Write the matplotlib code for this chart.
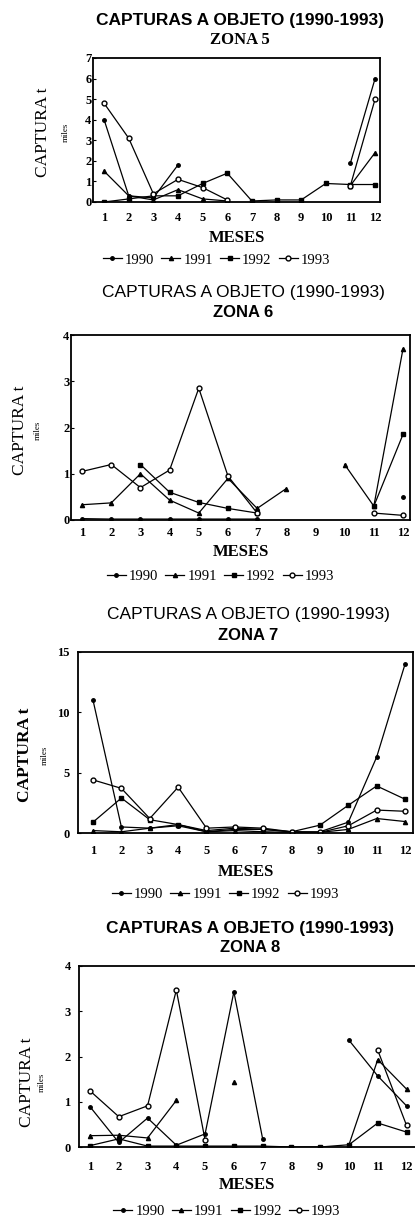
import numpy as np
import matplotlib
matplotlib.use("Agg")
import matplotlib.pyplot as plt

nan = np.nan
meses = list(range(1, 13))
anios = ["1990", "1991", "1992", "1993"]

# zona 5 (miles de t)
z5_1990 = [4.0, 0.3, 0.2, 1.8, nan, nan, nan, nan, nan, nan, 1.9, 6.0]
z5_1991 = [1.5, 0.3, 0.1, 0.6, 0.15, 0.05, nan, nan, nan, nan, 0.8, 2.4]
z5_1992 = [0.0, 0.15, 0.3, 0.3, 0.9, 1.4, 0.05, 0.1, 0.1, 0.9, 0.85, 0.85]
z5_1993 = [4.8, 3.1, 0.4, 1.1, 0.7, 0.1, nan, nan, nan, nan, 0.8, 5.0]

# zona 6
z6_1990 = [0.03, 0.02, 0.02, 0.02, 0.02, 0.02, 0.02, nan, nan, nan, nan, 0.5]
z6_1991 = [0.33, 0.37, 1.0, 0.43, 0.15, 0.9, 0.25, 0.68, nan, 1.2, 0.3, 3.7]
z6_1992 = [nan, nan, 1.2, 0.6, 0.38, 0.25, 0.15, nan, nan, nan, 0.3, 1.85]
z6_1993 = [1.05, 1.2, 0.7, 1.08, 2.85, 0.95, 0.15, nan, nan, nan, 0.15, 0.1]

# zona 7
z7_1990 = [11.0, 0.5, 0.4, 0.6, 0.1, 0.3, 0.3, 0.1, 0.1, 0.9, 6.3, 14.0]
z7_1991 = [0.2, 0.1, 0.4, 0.7, 0.1, 0.2, 0.1, 0.05, 0.05, 0.3, 1.2, 0.95]
z7_1992 = [0.9, 2.9, 1.1, 0.7, 0.2, 0.4, 0.3, 0.1, 0.65, 2.3, 3.9, 2.8]
z7_1993 = [4.4, 3.7, 1.2, 3.8, 0.4, 0.5, 0.4, 0.1, 0.05, 0.6, 1.9, 1.8]

# zona 8
z8_1990 = [0.89, 0.1, 0.64, 0.04, 0.29, 3.43, 0.18, nan, nan, 2.36, 1.57, 0.91]
z8_1991 = [0.25, 0.26, 0.2, 1.03, nan, 1.44, nan, nan, nan, 0.05, 1.93, 1.28]
z8_1992 = [0.03, 0.18, 0.02, 0.02, 0.02, 0.02, 0.02, 0.0, 0.0, 0.05, 0.53, 0.33]
z8_1993 = [1.24, 0.67, 0.91, 3.47, 0.15, nan, nan, nan, nan, nan, 2.14, 0.48]

zonas = ["ZONA 5", "ZONA 6", "ZONA 7", "ZONA 8"]
datos = [
    [z5_1990, z5_1991, z5_1992, z5_1993],
    [z6_1990, z6_1991, z6_1992, z6_1993],
    [z7_1990, z7_1991, z7_1992, z7_1993],
    [z8_1990, z8_1991, z8_1992, z8_1993],
]
ymax = [7, 4, 15, 4]
yticks = [list(range(0, 8)), list(range(0, 5)), [0, 5, 10, 15], list(range(0, 5))]

W, H = 415, 1220
SERIF = "Liberation Serif"
SANS = "Liberation Sans"

# layout in pixels: (left, right, top, bottom, xmin, xmax)
cajas = [
    (93, 380, 58, 202, 0.55, 12.2),
    (71, 410, 335, 520, 0.62, 12.24),
    (78, 413, 652, 833, 0.47, 12.28),
    (79, 416, 966, 1147, 0.617, 12.33),
]
# y of title line 1, title line 2, MESES, legend ; x of ylabel, x of miles, y of ylabel
textos = [
    (21, 40, 238, 260, 43, 66, 132),
    (293, 313, 552, 576, 20, 38, 430),
    (615, 635, 872, 894, 25, 45, 755),
    (928, 948, 1185, 1211, 27, 42, 1082),
]
pads = [(7, 1), (5, 1), (9, 6), (10, 6)]
titulo_bold = [True, False, False, True]
zona_familia = [SERIF, SANS, SANS, SANS]

estilos = [
    dict(marker="o", ms=2.5, mfc="black"),
    dict(marker="^", ms=3, mfc="black"),
    dict(marker="s", ms=2.8, mfc="black"),
    dict(marker="o", ms=3.5, mfc="white"),
]

fig = plt.figure(figsize=(W / 100, H / 100), dpi=100)


def fx(px):
    return px / W


def fy(py):
    return 1 - py / H


for i in range(4):
    l, r, t, b, x0, x1 = cajas[i]
    ax = fig.add_axes([fx(l), fy(b), fx(r - l), (b - t) / H])
    lineas = []
    for j, serie in enumerate(datos[i]):
        ln, = ax.plot(meses, serie, color="black", lw=0.9, mec="black",
                      **estilos[j], label=anios[j])
        lineas.append(ln)
    ax.set_xlim(x0, x1)
    ax.set_ylim(0, ymax[i])
    ax.set_xticks(meses)
    ax.set_yticks(yticks[i])
    for s in ax.spines.values():
        s.set_linewidth(1.3)
    ax.tick_params(axis="x", length=0, pad=pads[i][0])
    ax.tick_params(axis="y", length=2, direction="in", pad=pads[i][1])
    for lab in ax.get_xticklabels() + ax.get_yticklabels():
        lab.set_fontfamily(SERIF)
        lab.set_fontsize(9)
        lab.set_fontweight("bold")

    cx = fx((l + min(r, 415)) / 2 + 3)
    t1, t2, tm, tl, xl, xm, yl = textos[i]
    fig.text(cx, fy(t1), "CAPTURAS A OBJETO (1990-1993)", ha="center", va="center",
             family=SANS, fontsize=12.5, fontweight="bold" if titulo_bold[i] else "normal")
    fig.text(cx, fy(t2), zonas[i], ha="center", va="center",
             family=zona_familia[i], fontsize=12, fontweight="bold")
    fig.text(fx((l + min(r, 415)) / 2), fy(tm), "MESES", ha="center", va="center",
             family=SERIF, fontsize=12, fontweight="bold")
    fig.text(fx(xl), fy(yl), "CAPTURA t", ha="center", va="center", rotation=90,
             family=SERIF, fontsize=12.5, fontweight="bold" if i == 2 else "normal")
    fig.text(fx(xm), fy(yl), "miles", ha="center", va="center", rotation=90,
             family=SERIF, fontsize=6.5)
    fig.legend(handles=lineas, loc="center", bbox_to_anchor=(fx((l + min(r, 415)) / 2 - 20), fy(tl)),
               ncol=4, frameon=False, handlelength=1.3, handletextpad=0.2,
               columnspacing=0.5, borderpad=0, prop={"family": SERIF, "size": 10.5})

fig.savefig("out.png", dpi=100)
